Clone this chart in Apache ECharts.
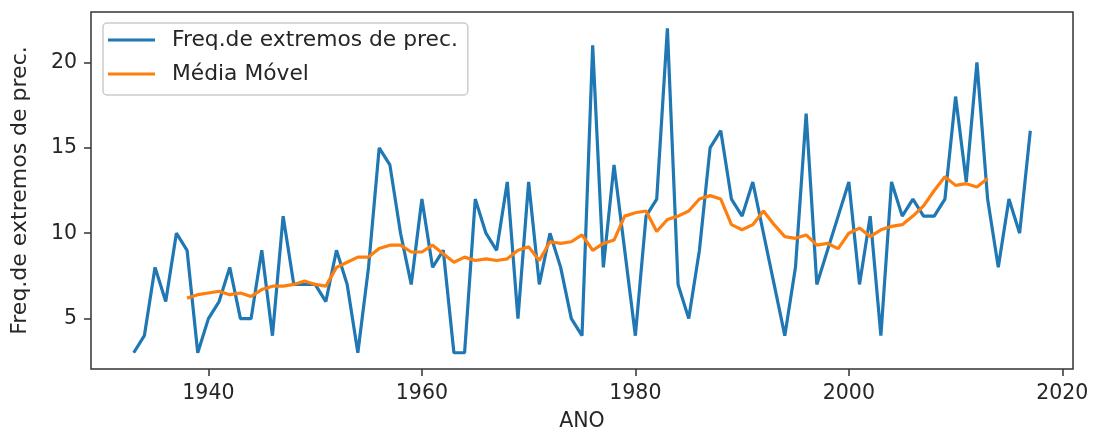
<!DOCTYPE html>
<html>
<head>
<meta charset="utf-8">
<script src="https://cdn.jsdelivr.net/npm/echarts@6/dist/echarts.min.js"></script>
<style>
html,body{margin:0;padding:0;background:#fff;}
#chart{width:1093px;height:437px;}
</style>
</head>
<body>
<div id="chart"></div>
<script>
// ---- data ----
const years = [1933,1934,1935,1936,1937,1938,1939,1940,1941,1942,1943,1944,1945,1946,1947,1948,1949,1950,
  1951,1952,1953,1954,1955,1956,1957,1958,1959,1960,1961,1962,1963,1964,1965,1966,1967,1968,1969,1970,
  1971,1972,1973,1974,1975,1976,1977,1978,1979,1980,1981,1982,1983,1984,1985,1986,1987,1988,1989,1990,
  1991,1992,1993,1994,1995,1996,1997,1998,1999,2000,2001,2002,2003,2004,2005,2006,2007,2008,2009,2010,
  2011,2012,2013,2014,2015,2016,2017];
const freqValues = [3,4,8,6,10,9,3,5,6,8,5,5,9,4,11,7,7,7,
  6,9,7,3,8,15,14,10,7,12,8,9,3,3,12,10,9,13,5,13,
  7,10,8,5,4,21,8,14,9,4,11,12,22,7,5,9,15,16,12,11,
  13,10,7,4,8,17,7,9,11,13,7,11,4,13,11,12,11,11,12,18,
  13,20,12,8,12,10,16];

const maYears = [1938,1939,1940,1941,1942,1943,1944,1945,1946,1947,1948,1949,1950,
  1951,1952,1953,1954,1955,1956,1957,1958,1959,1960,1961,1962,1963,1964,1965,1966,1967,1968,1969,1970,
  1971,1972,1973,1974,1975,1976,1977,1978,1979,1980,1981,1982,1983,1984,1985,1986,1987,1988,1989,1990,
  1991,1992,1993,1994,1995,1996,1997,1998,1999,2000,2001,2002,2003,2004,2005,2006,2007,2008,2009,2010,
  2011,2012,2013];
const maValues = [6.2,6.4,6.5,6.6,6.4,6.5,6.3,6.7,6.9,6.9,7.0,7.2,7.0,
  6.9,8.0,8.3,8.6,8.6,9.1,9.3,9.3,8.9,8.9,9.3,8.8,8.3,8.6,8.4,8.5,8.4,8.5,9.0,9.2,
  8.4,9.5,9.4,9.5,9.9,9.0,9.4,9.6,11.0,11.2,11.3,10.1,10.8,11.0,11.3,12.0,12.2,12.0,10.5,10.2,
  10.5,11.3,10.5,9.8,9.7,9.9,9.3,9.4,9.1,10.0,10.3,9.8,10.2,10.4,10.5,11.0,11.6,12.5,13.3,12.8,
  12.9,12.7,13.2];

const xTicks = [1940,1960,1980,2000,2020];
const yTicks = [5,10,15,20];
const seriesNames = ['Freq.de extremos de prec.', 'Média Móvel'];
const xName = 'ANO';
const yName = 'Freq.de extremos de prec.';

// ---- chart ----
const FONT = 'DejaVu Sans';
const TXT = '#262626';
const chart = echarts.init(document.getElementById('chart'), null, {renderer: 'canvas'});

const freqData = years.map((y, i) => [y, freqValues[i]]);
const maData = maYears.map((y, i) => [y, maValues[i]]);

chart.setOption({
  animation: false,
  backgroundColor: '#ffffff',
  grid: {
    left: 91, right: 20, top: 12, bottom: 66,
    show: true, borderColor: '#333', borderWidth: 1.5, backgroundColor: '#fff'
  },
  legend: {
    orient: 'vertical',
    left: 103, top: 23,
    padding: [6, 10, 10, 5],
    itemGap: 12,
    itemWidth: 47,
    itemHeight: 3,
    icon: 'rect',
    backgroundColor: 'rgba(255,255,255,0.8)',
    borderColor: '#cccccc',
    borderWidth: 1.5,
    borderRadius: 4,
    textStyle: {fontFamily: FONT, fontSize: 21.8, color: TXT, padding: [0,0,0,12], lineHeight: 22},
    data: seriesNames
  },
  xAxis: {
    type: 'value',
    min: 1929.0, max: 2021.0,
    name: xName,
    nameLocation: 'middle',
    nameGap: 42,
    nameTextStyle: {fontFamily: FONT, fontSize: 20.5, color: TXT},
    axisLine: {show: false},
    splitLine: {show: false},
    axisTick: {show: true, length: 7, lineStyle: {color: '#333', width: 1.5}, customValues: xTicks},
    axisLabel: {fontFamily: FONT, fontSize: 20.5, color: TXT, margin: 14, customValues: xTicks,
      formatter: v => String(v)}
  },
  yAxis: {
    type: 'value',
    min: 2.05, max: 22.95,
    name: yName,
    nameLocation: 'middle',
    nameRotate: 90,
    nameGap: 60,
    nameTextStyle: {fontFamily: FONT, fontSize: 22, color: TXT},
    axisLine: {show: false},
    splitLine: {show: false},
    axisTick: {show: true, length: 7, lineStyle: {color: '#333', width: 1.5}, customValues: yTicks},
    axisLabel: {fontFamily: FONT, fontSize: 20.5, color: TXT, margin: 14, customValues: yTicks,
      formatter: v => String(v)}
  },
  series: [
    {
      name: seriesNames[0], type: 'line', data: freqData,
      symbol: 'none', showSymbol: false,
      lineStyle: {color: '#1f77b4', width: 3.2},
      itemStyle: {color: '#1f77b4'},
      z: 2
    },
    {
      name: seriesNames[1], type: 'line', data: maData,
      symbol: 'none', showSymbol: false,
      lineStyle: {color: '#ff7f0e', width: 3.2},
      itemStyle: {color: '#ff7f0e'},
      z: 3
    }
  ]
});
</script>
</body>
</html>
